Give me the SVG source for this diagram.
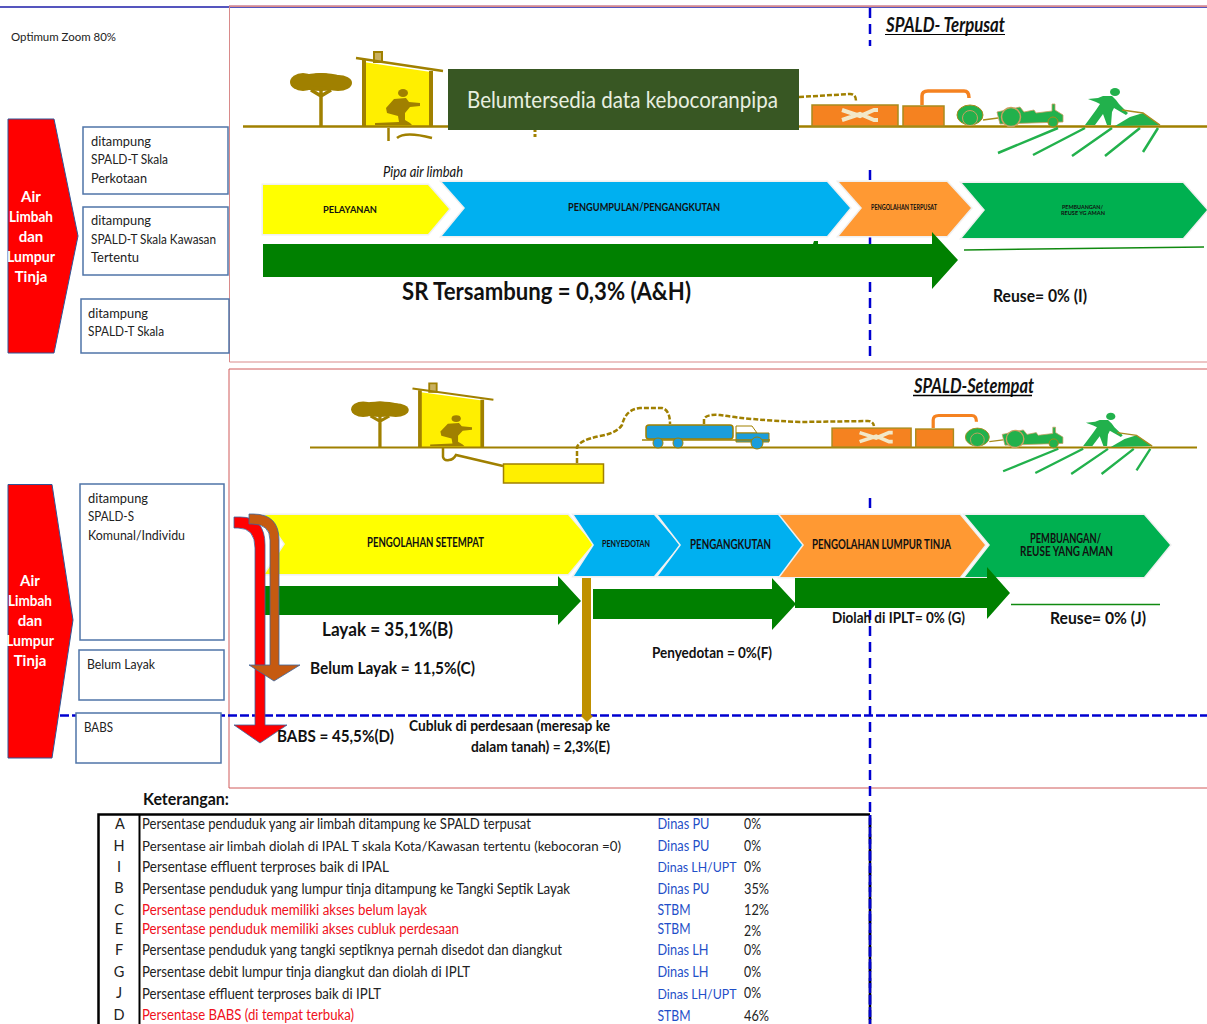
<svg xmlns="http://www.w3.org/2000/svg" xmlns:xlink="http://www.w3.org/1999/xlink" width="1207" height="1024" viewBox="0 0 1207 1024">
<style>
text{font-family:Lato,"Open Sans","Liberation Sans",sans-serif;fill:#111}
.b{font-weight:700}
.i{font-style:italic}
.lbl{font-size:14px;fill:#222}
.dsc{font-size:14.5px;fill:#222}
.dsm{font-size:13.5px;fill:#222}
.red{fill:#f01020}
.ag{fill:#1f4fc8}
.w{fill:#fff;font-weight:700;font-size:15px;text-anchor:middle}
.box{fill:#fff;stroke:#4f74a8;stroke-width:1.5}
.pent{fill:#f00;stroke:#2f5597;stroke-width:1}
.chev{stroke:#f0f0f0;stroke-width:3;paint-order:stroke}
.ga{fill:#008000}
.olive{fill:#a08000}
.ol{stroke:#a08000;fill:none}
.dash{stroke:#0000d0;stroke-width:2.5;stroke-dasharray:10 6;fill:none}
.dashh{stroke:#0000d0;stroke-width:2.5;stroke-dasharray:9 3;fill:none}
.gl{stroke:#22b14c;stroke-width:2.500;fill:none}
.org{fill:#f58220;stroke:#a88b1c;stroke-width:1.5}
.tb{stroke:#000;fill:none}
</style>
<defs>
<g id="houseSym">
<ellipse cx="321" cy="82" rx="27" ry="9" class="olive"/>
<ellipse cx="303" cy="82" rx="13" ry="9" class="olive"/>
<ellipse cx="338" cy="83" rx="14" ry="8" class="olive"/>
<ellipse cx="321" cy="80" rx="14" ry="7" class="olive"/>
<path d="M321 88V126M321 96L311 90M321 96L331 90" class="ol" stroke-width="3.5"/>
<polygon points="363,62 431,72 431,126 363,126" fill="#ffef00"/>
<rect x="374" y="52" width="8" height="10" fill="#c8b060" stroke="#a08000" stroke-width="2"/>
<path d="M356 58L443 71" class="ol" stroke-width="2.5"/>
<path d="M364 60V126M431 71V126" class="ol" stroke-width="4"/>
<ellipse cx="403" cy="93" rx="5" ry="4" class="olive"/>
<polygon class="olive" points="394,99 406,98 409,102 420,103 420,106 410,107 405,113 405,120 410,123 412,125 375,125 375,123 399,122 398,116 387,113 386,108" />
</g>
<g id="farmSym">
<rect x="812" y="105" width="86" height="21" class="org"/>
<rect x="903" y="106" width="41" height="20" class="org"/>
<path d="M842 110L860 116L874 110L878 110M842 120L860 114L874 120L878 120" stroke="#f2e8c8" stroke-width="4" fill="none"/>
<path d="M922 105V96Q922 91 928 91H964Q969 91 969 98" stroke="#f58220" stroke-width="3.5" fill="none"/>
<ellipse cx="970" cy="115" rx="13" ry="10" fill="#22b14c" stroke="#a88b1c"/>
<circle cx="970" cy="118" r="7.500" fill="#22b14c" stroke="#c9a060"/>
<path d="M983 120L998 118" stroke="#a88b1c" stroke-width="1.500"/>
<polygon fill="#22b14c" stroke="#c9a060" stroke-width=".8" points="997,112 1020,107 1024,112 1034,110 1036,113 1052,111 1052,104 1055,104 1055,110 1063,115 1063,122 1000,124"/>
<circle cx="1011" cy="117" r="9.500" fill="#22b14c" stroke="#c9a060" stroke-width="1.500"/>
<circle cx="1053" cy="122" r="5" fill="#22b14c" stroke="#a88b1c"/>
<ellipse cx="1115" cy="92" rx="5" ry="4" fill="#22b14c"/>
<polygon fill="#22b14c" points="1088,99 1098,98 1103,96 1112,96 1116,100 1119,104 1128,113 1126,115 1114,108 1112,112 1111,125 1107,125 1103,114 1095,125 1085,125 1096,110 1100,104 1096,102"/>
<polygon fill="#22b14c" points="1115,126 1130,117 1143,113 1160,125"/>
<path d="M1122 110L1143 113L1160 125" stroke="#a88b1c" stroke-width="1.500" fill="none"/>
<path d="M1058 128L998 153M1085 128L1033 155M1112 128L1072 156M1140 128L1105 156M1158 128L1143 152" class="gl"/>
</g>
</defs>

<g id="frames">
<path d="M229 5.500H1207" stroke="#d9a0b0" stroke-width="1"/>
<path d="M0 7H1207" stroke="#1c1ca8" stroke-width="1.500"/>
<path d="M1207 6.500H229.500V362H1207" fill="none" stroke="#d98a8a" stroke-width="1"/>
<path d="M1207 369H229V788H1207" fill="none" stroke="#d05a5a" stroke-width="1"/>
</g>

<g id="scene-terpusat">
<use xlink:href="#houseSym" href="#houseSym"/>
<path d="M243 126.500H1207" class="ol" stroke-width="2.500"/>
<use xlink:href="#farmSym" href="#farmSym"/>
<path d="M799 97L850 94Q856 94 856 101" class="ol" stroke-width="2.500" stroke-dasharray="5 2"/>
<path d="M388.500 128V141M397 138Q405 131 432 138" class="ol" stroke-width="2.500"/>
<path d="M535 129V138" class="ol" stroke-width="3" stroke-dasharray="3 2"/>
</g>

<g id="scene-setempat">
<use xlink:href="#houseSym" href="#houseSym" transform="translate(419 447) scale(.93 .86) translate(-363 -126)"/>
<path d="M310 447.500H1197" class="ol" stroke-width="2"/>
<use xlink:href="#farmSym" href="#farmSym" transform="translate(832 447) scale(.92 .9) translate(-812 -126)"/>
<path d="M443 448V457Q444 461 449 460Q453 460 456 455L503 466" class="ol" stroke-width="2.500"/>
<rect x="503.500" y="464" width="100" height="19" fill="#ffef00" stroke="#a08000" stroke-width="1.500"/>
<path d="M577 463V447Q580 440 600 436Q617 433 622 425Q626 409 640 408L662 408Q670 410 670 424M704 424V419Q706 414 720 415Q750 420 800 422L868 421Q873 421 874 426" class="ol" stroke-width="2.500" stroke-dasharray="5 2"/>
<rect x="646" y="425" width="87" height="14" rx="3" fill="#1b9ddb" stroke="#a08000" stroke-width="1.500"/>
<path d="M736 426H752L757 433H736Z" fill="#fff" stroke="#a08000"/>
<path d="M736 433H769V442H736Z" fill="#1b9ddb" stroke="#a08000"/>
<path d="M642 440H770" class="ol" stroke-width="1.500"/>
<circle cx="658" cy="443" r="5" fill="#1b9ddb" stroke="#a08000"/>
<circle cx="678" cy="443" r="5" fill="#1b9ddb" stroke="#a08000"/>
<circle cx="757" cy="443" r="6" fill="#1b9ddb" stroke="#a08000"/>
</g>

<g id="guides-vertical">
<path d="M870 8V46M870 170V360M870 498V1024" class="dash"/>
</g>

<g id="left-terpusat">
<polygon class="pent" points="8,119 54,119 78,236 54,353 8,353"/>
<g><text class="w" x="31" y="202">Air</text><text class="w" x="31" y="222" textLength="44" lengthAdjust="spacingAndGlyphs">Limbah</text><text class="w" x="31" y="242">dan</text><text class="w" x="31" y="262" textLength="48" lengthAdjust="spacingAndGlyphs">Lumpur</text><text class="w" x="31" y="282">Tinja</text></g>
</g>
<g id="box-perkotaan"><rect class="box" x="83" y="127" width="145" height="67"/>
<text class="lbl" x="91" y="146" textLength="60" lengthAdjust="spacingAndGlyphs">ditampung</text><text class="lbl" x="91" y="164" textLength="77" lengthAdjust="spacingAndGlyphs">SPALD-T Skala</text><text class="lbl" x="91" y="183" textLength="56" lengthAdjust="spacingAndGlyphs">Perkotaan</text></g>
<g id="box-kawasan"><rect class="box" x="83" y="207" width="145" height="68"/>
<text class="lbl" x="91" y="225" textLength="60" lengthAdjust="spacingAndGlyphs">ditampung</text><text class="lbl" x="91" y="244" textLength="125" lengthAdjust="spacingAndGlyphs">SPALD-T Skala Kawasan</text><text class="lbl" x="91" y="262" textLength="48" lengthAdjust="spacingAndGlyphs">Tertentu</text></g>
<g id="box-skala"><rect class="box" x="81" y="299" width="148" height="54"/>
<text class="lbl" x="88" y="318" textLength="60" lengthAdjust="spacingAndGlyphs">ditampung</text><text class="lbl" x="88" y="336" textLength="76" lengthAdjust="spacingAndGlyphs">SPALD-T Skala</text></g>

<g id="left-setempat">
<polygon class="pent" points="8,484.500 52,484.500 73,620 52,758 8,758"/>
<g><text class="w" x="30" y="586">Air</text><text class="w" x="30" y="606" textLength="44" lengthAdjust="spacingAndGlyphs">Limbah</text><text class="w" x="30" y="626">dan</text><text class="w" x="30" y="646" textLength="48" lengthAdjust="spacingAndGlyphs">Lumpur</text><text class="w" x="30" y="666">Tinja</text></g>
</g>

<g id="guides-horizontal">
<path d="M60 715.500H1207" class="dashh"/>
</g>

<g id="box-spald-s"><rect class="box" x="80" y="484" width="144" height="156"/>
<text class="lbl" x="88" y="503" textLength="60" lengthAdjust="spacingAndGlyphs">ditampung</text><text class="lbl" x="88" y="521" textLength="46" lengthAdjust="spacingAndGlyphs">SPALD-S</text><text class="lbl" x="88" y="540" textLength="97" lengthAdjust="spacingAndGlyphs">Komunal/Individu</text></g>
<g id="box-belum"><rect class="box" x="79" y="650" width="145" height="50"/>
<text class="lbl" x="87" y="669" textLength="68" lengthAdjust="spacingAndGlyphs">Belum Layak</text></g>
<g id="box-babs"><rect class="box" x="76" y="713" width="145" height="50"/>
<text class="lbl" x="84" y="732" textLength="29" lengthAdjust="spacingAndGlyphs">BABS</text></g>

<g id="chev-pelayanan"><polygon class="chev" fill="#ff0" points="263,185 428,185 449,209 428,234 263,234"/>
<text class="b" font-size="10" x="323" y="213" textLength="54" lengthAdjust="spacingAndGlyphs">PELAYANAN</text></g>
<g id="chev-pengumpulan"><polygon class="chev" fill="#00b0f0" points="442,182 827,182 850,208 827,236 442,236 465,208"/>
<text class="b" font-size="10.500" x="568" y="211" textLength="152" lengthAdjust="spacingAndGlyphs">PENGUMPULAN/PENGANGKUTAN</text></g>
<g id="chev-pengolahan"><polygon class="chev" fill="#ff9933" points="839,182 947,182 971,208 947,236 839,236 862,208"/>
<text class="b" font-size="6.500" x="871" y="210" textLength="66" lengthAdjust="spacingAndGlyphs">PENGOLAHAN TERPUSAT</text></g>
<g id="chev-pembuangan"><polygon class="chev" fill="#00b050" points="962,183 1183,183 1207,210 1183,238 962,238 985,210"/>
<text class="b" font-size="6" x="1062" y="208.500" textLength="41" lengthAdjust="spacingAndGlyphs">PEMBUANGAN/</text><text class="b" font-size="6" x="1061" y="215" textLength="44" lengthAdjust="spacingAndGlyphs">REUSE YG AMAN</text></g>

<g id="chev-setempat"><polygon class="chev" fill="#ff0" points="265,515 568,515 593,544 568,574 265,574 285,544"/>
<text class="b" font-size="12.500" x="367" y="547" textLength="117" lengthAdjust="spacingAndGlyphs">PENGOLAHAN SETEMPAT</text></g>
<g id="chev-penyedotan"><polygon class="chev" fill="#00b0f0" points="574,515 654,515 680,545 654,576 574,576 594,545"/>
<text class="b" font-size="9" x="602" y="547" textLength="48" lengthAdjust="spacingAndGlyphs">PENYEDOTAN</text></g>
<g id="chev-pengangkutan"><polygon class="chev" fill="#00b0f0" points="658,515 780,515 804,545 780,576 658,576 681,545"/>
<text class="b" font-size="13" x="690" y="549" textLength="81" lengthAdjust="spacingAndGlyphs">PENGANGKUTAN</text></g>
<g id="chev-lumpur"><polygon class="chev" fill="#ff9933" points="780,515 960,515 985,545 960,577 780,577 804,545"/>
<text class="b" font-size="13" x="812" y="549" textLength="139" lengthAdjust="spacingAndGlyphs">PENGOLAHAN LUMPUR TINJA</text></g>
<g id="chev-reuse"><polygon class="chev" fill="#00b050" points="965,515 1144,515 1170,545 1144,577 965,577 990,545"/>
<text class="b" font-size="12.500" x="1030" y="543" textLength="71" lengthAdjust="spacingAndGlyphs">PEMBUANGAN/</text><text class="b" font-size="12.500" x="1020" y="556" textLength="93" lengthAdjust="spacingAndGlyphs">REUSE YANG AMAN</text></g>

<g id="connectors">
<polygon class="ga" points="263,244 813,244 814,241 818,241 818,244 932,244 932,232 958,260 932,289 932,277 263,277"/>
<path d="M964 250L1204 247" stroke="#108a10" stroke-width="1.500" fill="none"/>
<polygon class="ga" points="265,586 558,586 558,576 581,601 558,625 558,615 265,615"/>
<polygon class="ga" points="593,589 772,589 772,578 796,604 772,630 772,619 593,619"/>
<polygon class="ga" points="795,578 987,578 987,567 1010,593 987,619 987,608 795,608"/>
<path d="M1011 604.500H1160" stroke="#108a10" stroke-width="1.500" fill="none"/>
<polygon fill="#bf9000" points="582,578 591,578 591,715 593,716 587,722 581,716 582,715"/>
<path d="M234 517H240Q265 517 265 545V725H287L260 743L234 725H255V548Q255 528 238 528H234Z" fill="#f00" stroke="#3a66a0" stroke-width=".8"/>
<path d="M249 514H253Q279 514 279 540V665H300L274 681L249 665H270V540Q270 524 252 524H249Z" fill="#c55a11" stroke="#3a66a0" stroke-width=".8"/>
</g>

<g id="dark-note"><rect x="448" y="69" width="351" height="61" fill="#385723"/>
<text x="467" y="108" font-size="24" style="fill:#e8efe0" textLength="311" lengthAdjust="spacingAndGlyphs">Belumtersedia data kebocoranpipa</text></g>

<g id="labels">
<text font-size="12" x="11" y="41" textLength="105" lengthAdjust="spacingAndGlyphs" style="fill:#222">Optimum Zoom 80%</text>
<text class="b i" font-size="20" x="886" y="32" textLength="119" lengthAdjust="spacingAndGlyphs">SPALD- Terpusat</text>
<path d="M885 34.500H1005" stroke="#000" stroke-width="1.200"/>
<text class="i" font-size="15" x="383" y="177" textLength="80" lengthAdjust="spacingAndGlyphs">Pipa air limbah</text>
<text class="b" font-size="24" x="402" y="300" textLength="289" lengthAdjust="spacingAndGlyphs">SR Tersambung = 0,3% (A&amp;H)</text>
<text class="b" font-size="16.500" x="993" y="302" textLength="94" lengthAdjust="spacingAndGlyphs">Reuse= 0% (I)</text>
<text class="b i" font-size="20" x="914" y="393" textLength="120" lengthAdjust="spacingAndGlyphs">SPALD-Setempat</text>
<path d="M913 395.500H1032" stroke="#000" stroke-width="1.500"/>
<text class="b" font-size="19" x="322" y="636" textLength="131" lengthAdjust="spacingAndGlyphs">Layak = 35,1%(B)</text>
<text class="b" font-size="17" x="310" y="674" textLength="165" lengthAdjust="spacingAndGlyphs">Belum Layak = 11,5%(C)</text>
<text class="b" font-size="17" x="277" y="742" textLength="117" lengthAdjust="spacingAndGlyphs">BABS = 45,5%(D)</text>
<text class="b" font-size="14.500" x="409" y="731" textLength="201" lengthAdjust="spacingAndGlyphs">Cubluk di perdesaan (meresap ke</text>
<text class="b" font-size="14.500" x="471" y="752" textLength="139" lengthAdjust="spacingAndGlyphs">dalam tanah) = 2,3%(E)</text>
<text class="b" font-size="14.500" x="652" y="658" textLength="120" lengthAdjust="spacingAndGlyphs">Penyedotan = 0%(F)</text>
<text class="b" font-size="14.500" x="832" y="623" textLength="133" lengthAdjust="spacingAndGlyphs">Diolah di IPLT= 0% (G)</text>
<text class="b" font-size="17" x="1050" y="624" textLength="96" lengthAdjust="spacingAndGlyphs">Reuse= 0% (J)</text>
<text class="b" font-size="17" x="143" y="805" textLength="86" lengthAdjust="spacingAndGlyphs">Keterangan:</text>
</g>

<g id="legend">
<path d="M870 814.500H98.500V1024" class="tb" stroke-width="2.500"/>
<path d="M139.500 815V1024" class="tb" stroke-width="2"/>
<path d="M870 815V1024" stroke="#000" stroke-width="2.500" fill="none"/>
<path d="M870 815V1024" stroke="#0000d0" stroke-width="2.500" stroke-dasharray="10 2" fill="none"/>
<text class="dsc" x="120" y="829" text-anchor="middle">A</text>
<text class="dsc" x="119" y="851" text-anchor="middle">H</text>
<text class="dsc" x="119" y="872" text-anchor="middle">I</text>
<text class="dsc" x="119" y="893" text-anchor="middle">B</text>
<text class="dsc" x="119" y="915" text-anchor="middle">C</text>
<text class="dsc" x="119" y="934" text-anchor="middle">E</text>
<text class="dsc" x="119" y="955" text-anchor="middle">F</text>
<text class="dsc" x="119" y="977" text-anchor="middle">G</text>
<text class="dsc" x="119" y="998" text-anchor="middle">J</text>
<text class="dsc" x="119" y="1020" text-anchor="middle">D</text>
<text class="dsc" x="142" y="829" textLength="389" lengthAdjust="spacingAndGlyphs">Persentase penduduk yang air limbah ditampung ke SPALD terpusat</text>
<text class="dsm" x="142" y="851" textLength="479" lengthAdjust="spacingAndGlyphs">Persentase  air limbah diolah di IPAL T skala Kota/Kawasan tertentu (kebocoran =0)</text>
<text class="dsc" x="142" y="872" textLength="247" lengthAdjust="spacingAndGlyphs">Persentase  effluent  terproses baik di IPAL</text>
<text class="dsc" x="142" y="894" textLength="428" lengthAdjust="spacingAndGlyphs">Persentase penduduk yang lumpur tinja ditampung ke  Tangki Septik Layak</text>
<text class="dsc red" x="142" y="915" textLength="285" lengthAdjust="spacingAndGlyphs">Persentase penduduk memiliki akses belum layak</text>
<text class="dsc red" x="142" y="934" textLength="317" lengthAdjust="spacingAndGlyphs">Persentase penduduk memiliki akses cubluk perdesaan</text>
<text class="dsc" x="142" y="955" textLength="420" lengthAdjust="spacingAndGlyphs">Persentase penduduk yang tangki septiknya pernah disedot dan diangkut</text>
<text class="dsc" x="142" y="977" textLength="328" lengthAdjust="spacingAndGlyphs">Persentase debit lumpur tinja diangkut dan diolah di IPLT</text>
<text class="dsc" x="142" y="999" textLength="239" lengthAdjust="spacingAndGlyphs">Persentase effluent terproses baik di IPLT</text>
<text class="dsc red" x="142" y="1020" textLength="212" lengthAdjust="spacingAndGlyphs">Persentase BABS (di tempat terbuka)</text>

<text class="dsc ag" x="657.500" y="829" textLength="52" lengthAdjust="spacingAndGlyphs">Dinas PU</text>
<text class="dsc ag" x="657.500" y="851" textLength="52" lengthAdjust="spacingAndGlyphs">Dinas PU</text>
<text class="dsm ag" x="657.500" y="872" textLength="79" lengthAdjust="spacingAndGlyphs">Dinas LH/UPT</text>
<text class="dsc ag" x="657.500" y="894" textLength="52" lengthAdjust="spacingAndGlyphs">Dinas PU</text>
<text class="dsc ag" x="657.500" y="915" textLength="33" lengthAdjust="spacingAndGlyphs">STBM</text>
<text class="dsc ag" x="657.500" y="934" textLength="33" lengthAdjust="spacingAndGlyphs">STBM</text>
<text class="dsc ag" x="657.500" y="955" textLength="51" lengthAdjust="spacingAndGlyphs">Dinas LH</text>
<text class="dsc ag" x="657.500" y="977" textLength="51" lengthAdjust="spacingAndGlyphs">Dinas LH</text>
<text class="dsm ag" x="657.500" y="999" textLength="79" lengthAdjust="spacingAndGlyphs">Dinas LH/UPT</text>
<text class="dsc ag" x="657.500" y="1020.500" textLength="33" lengthAdjust="spacingAndGlyphs">STBM</text>

<text class="dsc" x="744" y="829" textLength="17" lengthAdjust="spacingAndGlyphs">0%</text>
<text class="dsc" x="744" y="851" textLength="17" lengthAdjust="spacingAndGlyphs">0%</text>
<text class="dsc" x="744" y="872" textLength="17" lengthAdjust="spacingAndGlyphs">0%</text>
<text class="dsc" x="744" y="894" textLength="25" lengthAdjust="spacingAndGlyphs">35%</text>
<text class="dsc" x="744" y="915" textLength="25" lengthAdjust="spacingAndGlyphs">12%</text>
<text class="dsc" x="744" y="936" textLength="17" lengthAdjust="spacingAndGlyphs">2%</text>
<text class="dsc" x="744" y="955" textLength="17" lengthAdjust="spacingAndGlyphs">0%</text>
<text class="dsc" x="744" y="977" textLength="17" lengthAdjust="spacingAndGlyphs">0%</text>
<text class="dsc" x="744" y="998" textLength="17" lengthAdjust="spacingAndGlyphs">0%</text>
<text class="dsc" x="744" y="1020.500" textLength="25" lengthAdjust="spacingAndGlyphs">46%</text>
</g>
</svg>
